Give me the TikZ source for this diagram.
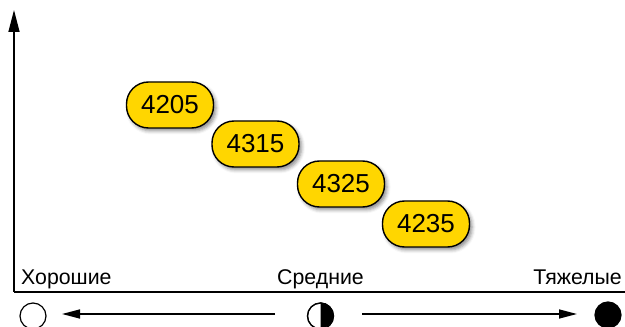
\documentclass[tikz,border=0pt]{standalone}
\usepackage{fontspec}
\setmainfont{Liberation Sans}
\usetikzlibrary{arrows.meta,shadows.blur}
\definecolor{boxyellow}{RGB}{255,214,0}
\tikzset{
  codebox/.style={draw=black, line width=1.4pt, fill=boxyellow,
    minimum width=87pt, minimum height=46pt, rounded corners=22pt,
    inner sep=0pt, font=\fontsize{26}{26}\selectfont,
    blur shadow={shadow xshift=2.5pt, shadow yshift=-3pt,
      shadow opacity=45, shadow blur radius=3.5pt}},
  axislabel/.style={font=\fontsize{21.3}{21.3}\selectfont, inner sep=0pt},
  mark circle/.style={circle, draw=black, line width=1.2pt,
    minimum size=26pt, inner sep=0pt},
  axis/.style={line width=1.5pt},
  pointer/.style={line width=1.5pt, -{Triangle[length=18pt,width=9pt]}}
}
\begin{document}
\begin{tikzpicture}[x=1pt,y=1pt]
  \useasboundingbox (0,0) rectangle (625,327);

  % axes
  \coordinate (origin) at (14,35);
  \coordinate (ytop) at (14,317);
  \coordinate (xend) at (625,35);
  \draw[axis,-{Triangle[length=22pt,width=11pt]}] (origin) -- (ytop);
  \draw[axis] (origin) -- (xend);

  % axis labels
  \node[axislabel, anchor=base west] (good) at (21,42) {Хорошие};
  \node[axislabel, anchor=base] (mid) at (320.5,42) {Средние};
  \node[axislabel, anchor=base east] (heavy) at (622,42) {Тяжелые};

  % code boxes
  \node[codebox] (c4205) at (170,222) {4205};
  \node[codebox] (c4315) at (255.5,183) {4315};
  \node[codebox] (c4325) at (341,143) {4325};
  \node[codebox] (c4235) at (426,103) {4235};

  % severity marks
  \node[mark circle, fill=white] (light) at (33,11) {};
  \node[mark circle, fill=white] (half) at (320.5,11) {};
  \fill[black] (half.north) arc[start angle=90, end angle=-90, radius=13pt] -- cycle;
  \draw[line width=1.2pt] (half) circle[radius=13pt];
  \node[mark circle, fill=black] (dark) at (608,12) {};

  % direction arrows
  \coordinate (lstart) at (275,13);
  \coordinate (lend) at (62,13);
  \coordinate (rstart) at (362,13);
  \coordinate (rend) at (577,13);
  \draw[pointer] (lstart) -- (lend);
  \draw[pointer] (rstart) -- (rend);
\end{tikzpicture}
\end{document}
